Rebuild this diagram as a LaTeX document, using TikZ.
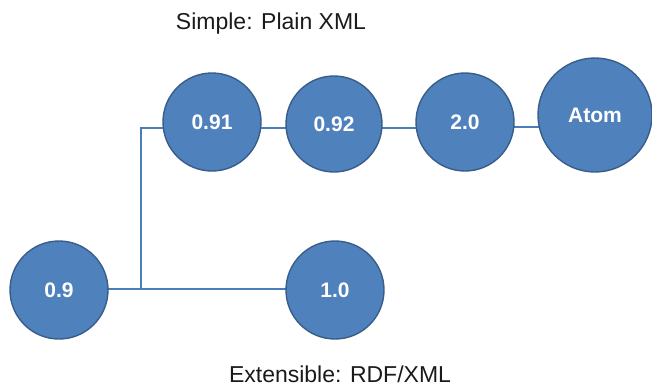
\documentclass[tikz,border=0pt]{standalone}
\usepackage{fontspec}
\setmainfont{Liberation Sans}
\usetikzlibrary{backgrounds}
\definecolor{ballfill}{HTML}{4F81BD}
\definecolor{balledge}{HTML}{385D8A}
\definecolor{linkc}{HTML}{4A7EBB}
\definecolor{capc}{HTML}{1A1A1A}
\begin{document}
\begin{tikzpicture}[x=1pt,y=-1pt,
  ball/.style={circle,fill=ballfill,draw=balledge,line width=1.4pt,inner sep=0pt,
    text=white,font=\fontsize{21}{24}\selectfont\bfseries},
  link/.style={draw=linkc,line width=2.6pt},
  caption/.style={text=capc,font=\fontsize{23}{26}\selectfont,inner sep=0pt}]
\useasboundingbox (0,0) rectangle (652,386);
\node[ball,minimum size=98pt] (v09) at (59,290) {0.9};
\node[ball,minimum size=98pt] (v10) at (335,290) {1.0};
\node[ball,minimum size=98pt] (v091) at (212,122) {0.91};
\node[ball,minimum size=96pt] (v092) at (334,124) {0.92};
\node[ball,minimum size=98pt] (v20) at (465,122) {2.0};
\node[ball,minimum size=114pt] (atom) at (595,115) {Atom};
\coordinate (j) at (141,289);
\coordinate (k) at (141,128);
\begin{scope}[on background layer]
\draw[link] (v09.center |- j) -- (v10.center |- j);
\draw[link] (j) -- (k) -- (v091.center |- k);
\draw[link] (v091.center |- k) -- (v092.center |- k);
\draw[link] (v092.center |- k) -- (v20.center |- k);
\draw[link] (v20.center |- 0,127) -- (atom.center |- 0,127);
\end{scope}
\node[caption] (top) at (271,24) {Simple: Plain XML};
\node[caption] (bot) at (340,374) {Extensible: RDF/XML};
\end{tikzpicture}
\end{document}
